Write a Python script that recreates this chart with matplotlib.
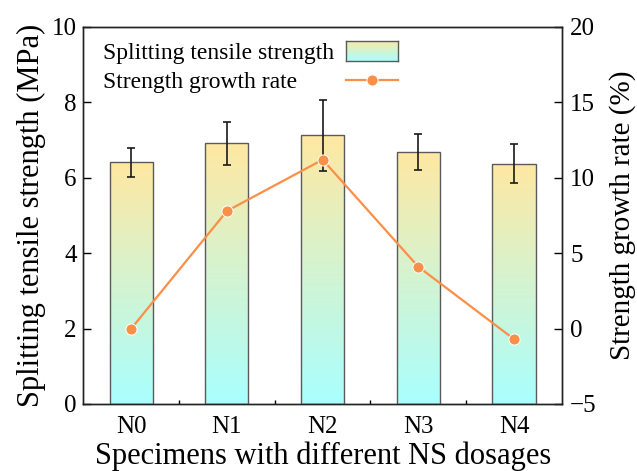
import numpy as np
import matplotlib
matplotlib.use('Agg')
import matplotlib.pyplot as plt
from matplotlib.colors import LinearSegmentedColormap
from matplotlib.lines import Line2D

plt.rcParams['font.family'] = 'Liberation Serif'

# data
groups = ['N0', 'N1', 'N2', 'N3', 'N4']
strength = [6.41, 6.91, 7.13, 6.68, 6.37]      # MPa
strength_err = [0.39, 0.57, 0.94, 0.47, 0.52]
growth = [0.0, 7.8, 11.2, 4.1, -0.7]           # %

top_color = '#FFE8A2'
bottom_color = '#A9FFFF'
line_color = '#FA8F48'
edge_color = '#5a5a5a'
cmap = LinearSegmentedColormap.from_list('ys', [bottom_color, top_color])
gradient = np.linspace(0, 1, 256).reshape(-1, 1)

fig = plt.figure(figsize=(6.37, 4.71), dpi=100)
ax = fig.add_axes([0.131, 0.1423, 0.751, 0.8004])
x = np.arange(len(groups))
width = 0.45

bars = ax.bar(x, strength, width, color='none', edgecolor=edge_color, linewidth=1.0, zorder=3)
# gradient fill, each bar clipped to its own rectangle
for bar in bars:
    x0, w, h = bar.get_x(), bar.get_width(), bar.get_height()
    im = ax.imshow(gradient, cmap=cmap, aspect='auto', origin='lower',
                   extent=[x0, x0 + w, 0, h], zorder=2)
    im.set_clip_path(bar)
ax.errorbar(x, strength, yerr=strength_err, fmt='none', ecolor='#1a1a1a',
            elinewidth=1.2, capsize=2.8, capthick=1.2, zorder=4)

ax.set_xlim(-0.5, 4.5)
ax.set_ylim(0, 10)
ax.set_yticks([0, 2, 4, 6, 8, 10])
ax.set_xticks(x)
ax.set_xticklabels(groups)
ax.set_xticks(x[:-1] + 0.5, minor=True)
ax.tick_params(axis='both', which='major', direction='in', length=6, width=1, labelsize=18)
ax.tick_params(axis='y', pad=5)
ax.tick_params(axis='x', which='major', length=0, pad=9)
ax.tick_params(axis='x', which='minor', direction='in', length=3, width=1)
ax.set_xlabel('Specimens with different NS dosages', fontsize=22, labelpad=2)
ax.set_ylabel('Splitting tensile strength (MPa)', fontsize=22, labelpad=4)

ax2 = ax.twinx()
ax2.plot(x, growth, color=line_color, linewidth=1.6, marker='o', markersize=8,
         markerfacecolor=line_color, markeredgecolor='white', markeredgewidth=0.7, zorder=5)
ax2.set_ylim(-5, 20)
ax2.set_yticks([-5, 0, 5, 10, 15, 20])
ax2.set_yticklabels(['\u22125', '0', '5', '10', '15', '20'])
ax2.tick_params(axis='y', direction='in', length=6, width=1, labelsize=18, pad=6)
ax2.set_ylabel('Strength growth rate (%)', fontsize=21, labelpad=9)

for a in (ax, ax2):
    for s in a.spines.values():
        s.set_linewidth(1.0)
        s.set_color('#222222')

# legend: labels on the left, keys lined up on the right
ax2.text(0.04, 0.929, 'Splitting tensile strength', transform=ax2.transAxes,
         fontsize=17, va='center', ha='left')
ax2.text(0.04, 0.853, 'Strength growth rate', transform=ax2.transAxes,
         fontsize=17, va='center', ha='left')
key = ax2.inset_axes([0.549, 0.909, 0.109, 0.054])
key.imshow(gradient, cmap=cmap, aspect='auto', origin='lower')
key.set_xticks([])
key.set_yticks([])
for s in key.spines.values():
    s.set_color(edge_color)
    s.set_linewidth(1.0)
ax2.add_line(Line2D([0.549, 0.658], [0.859, 0.859], transform=ax2.transAxes,
                    color=line_color, linewidth=1.6))
ax2.add_line(Line2D([0.6035], [0.859], transform=ax2.transAxes, color=line_color,
                    marker='o', markersize=8, markeredgecolor='white', markeredgewidth=0.7))

fig.savefig('out.png', dpi=100)
